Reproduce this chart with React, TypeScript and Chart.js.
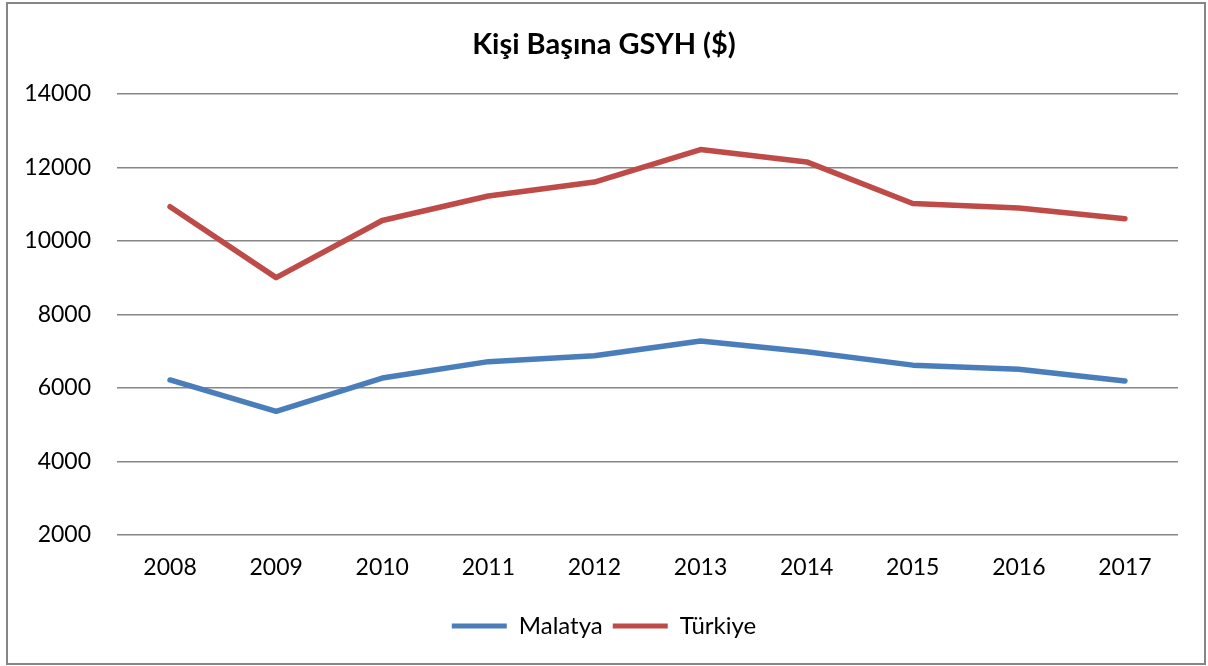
import React, { useEffect, useRef } from "react";
import { Chart, registerables } from "chart.js";

Chart.register(...registerables);

const years = ["2008", "2009", "2010", "2011", "2012", "2013", "2014", "2015", "2016", "2017"];
const malatya = [6217, 5365, 6270, 6715, 6873, 7274, 6982, 6620, 6510, 6191];
const turkiye = [10928, 9000, 10555, 11220, 11600, 12483, 12147, 11018, 10893, 10601];
const chartTitle = "Kişi Başına GSYH ($)";
const seriesNames = ["Malatya", "Türkiye"];
const yMin = 2000;
const yMax = 14000;
const yStep = 2000;

const FONT = "Lato, 'Open Sans', sans-serif";
const BLUE = "#4A7EBB";
const RED = "#BE4B48";
const GRID = "#868686";

const borderPlugin = {
  id: "outerBorder",
  beforeDraw(chart: any) {
    const { ctx, width, height } = chart;
    ctx.save();
    ctx.fillStyle = "#ffffff";
    ctx.fillRect(0, 0, width, height);
    ctx.strokeStyle = GRID;
    ctx.lineWidth = 2;
    ctx.strokeRect(7, 3, width - 10, height - 5);
    ctx.restore();
  },
};

export default function App() {
  const ref = useRef<HTMLCanvasElement | null>(null);

  useEffect(() => {
    if (!ref.current) return;
    const chart = new Chart(ref.current, {
      type: "line",
      data: {
        labels: years,
        datasets: [
          {
            label: seriesNames[0],
            data: malatya,
            borderColor: BLUE,
            backgroundColor: BLUE,
            borderWidth: 5.5,
            pointRadius: 0,
            tension: 0,
            borderCapStyle: "round",
            borderJoinStyle: "round",
          },
          {
            label: seriesNames[1],
            data: turkiye,
            borderColor: RED,
            backgroundColor: RED,
            borderWidth: 5.5,
            pointRadius: 0,
            tension: 0,
            borderCapStyle: "round",
            borderJoinStyle: "round",
          },
        ],
      },
      options: {
        responsive: false,
        animation: false,
        layout: { padding: { left: 0, right: 0, top: 20, bottom: 18 } },
        plugins: {
          title: {
            display: true,
            text: chartTitle,
            color: "#000",
            font: { family: FONT, size: 29, weight: "bold" },
            padding: { top: 7, bottom: 32 },
          },
          legend: {
            position: "bottom",
            labels: {
              color: "#000",
              font: { family: FONT, size: 24 },
              boxWidth: 55,
              boxHeight: 5,
              padding: 10,
              generateLabels(chart: any) {
                const items = Chart.defaults.plugins.legend.labels.generateLabels(chart);
                return items.map((it: any) => ({ ...it, lineWidth: 0 }));
              },
            },
          },
          tooltip: { enabled: false },
        },
        scales: {
          x: {
            offset: true,
            grid: { display: false, drawTicks: false },
            border: { display: false },
            ticks: { color: "#000", font: { family: FONT, size: 23 }, padding: 19, maxRotation: 0 },
            afterFit(scale: any) {
              scale.height = 69;
            },
          },
          y: {
            min: yMin,
            max: yMax,
            grid: { color: GRID, lineWidth: 1.5, drawTicks: false },
            border: { display: false },
            ticks: {
              stepSize: yStep,
              color: "#000",
              font: { family: FONT, size: 23 },
              padding: 26,
              callback: (v: any) => String(v),
            },
            afterFit(scale: any) {
              scale.width = 117;
            },
          },
          yRight: {
            position: "right",
            min: yMin,
            max: yMax,
            grid: { display: false, drawTicks: false },
            border: { display: false },
            ticks: { display: false },
            afterFit(scale: any) {
              scale.width = 30;
            },
          },
        },
      },
      plugins: [borderPlugin],
    });
    return () => chart.destroy();
  }, []);

  return (
    <div style={{ position: "fixed", left: 0, top: 0, width: 1208, height: 666 }}>
      <canvas ref={ref} width={1208} height={666} />
    </div>
  );
}
